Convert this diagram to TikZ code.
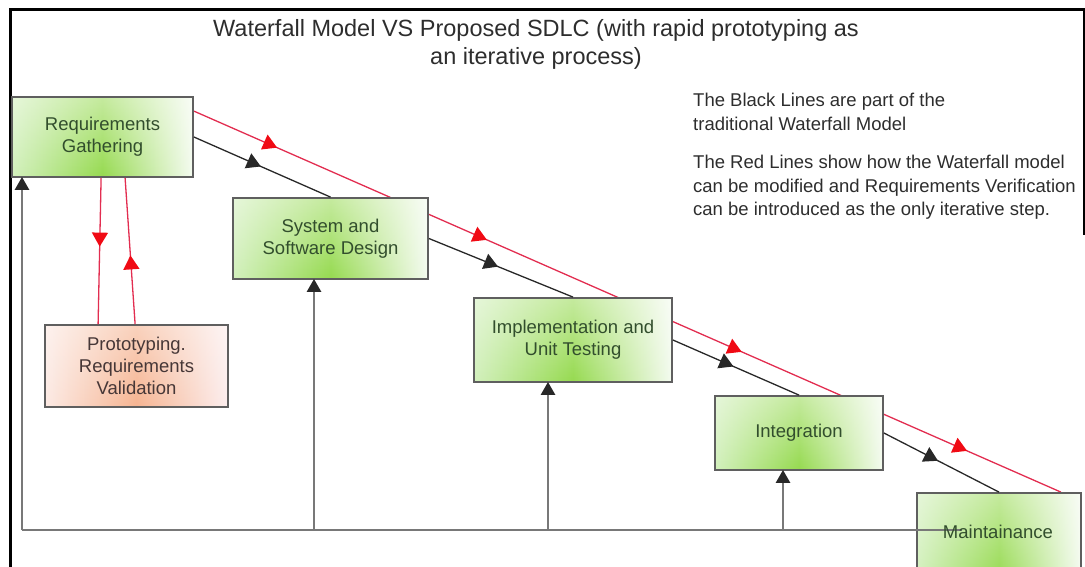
\documentclass[tikz,border=0pt]{standalone}
\usepackage{fontspec}
\setmainfont{Liberation Sans}
\usetikzlibrary{arrows.meta,decorations.markings,fadings,calc}

\definecolor{framecol}{RGB}{0,0,0}
\definecolor{boxgray}{RGB}{95,95,95}
\definecolor{boxtext}{RGB}{50,78,45}
\definecolor{prototext}{RGB}{70,55,55}
\definecolor{flowcol}{RGB}{40,40,40}
\definecolor{backcol}{RGB}{120,120,120}
\definecolor{redline}{RGB}{226,45,80}
\definecolor{redtip}{RGB}{240,10,20}
\definecolor{greenL}{RGB}{210,240,188}
\definecolor{greenM}{RGB}{150,218,80}
\definecolor{greenR}{RGB}{244,251,240}
\definecolor{peachL}{RGB}{252,234,228}
\definecolor{peachM}{RGB}{246,180,145}
\definecolor{peachR}{RGB}{252,238,238}
\definecolor{titletext}{RGB}{45,45,45}

\pgfdeclarelayer{background}
\pgfsetlayers{background,main}

\newcommand{\labelfont}{\fontsize{18.5}{22}\selectfont}
\newcommand{\notefont}{\fontsize{18.5}{23.5}\selectfont}
\newcommand{\titlefont}{\fontsize{23.5}{28}\selectfont}

% the picture runs with y pointing down, so a fading named "south"
% lightens the upper part of each box
\tikzset{
  stagebox/.style={draw=boxgray, line width=1.8pt, align=center, inner sep=0pt,
    font=\labelfont, text=boxtext,
    preaction={left color=greenL, right color=greenR, middle color=greenM},
    preaction={fill=white, fill opacity=0.45, path fading=south}},
  protobox/.style={draw=boxgray, line width=1.8pt, align=center, inner sep=0pt,
    font=\labelfont, text=prototext,
    preaction={left color=peachL, right color=peachR, middle color=peachM},
    preaction={fill=white, fill opacity=0.4, path fading=south}},
  flowline/.style={draw=flowcol, line width=1.3pt},
  redflow/.style={draw=redline, line width=1.3pt},
  backline/.style={draw=backcol, line width=2.6pt},
  uptip/.style={-{Triangle[length=13pt,width=14pt,color=flowcol]}, shorten >=-1pt},
  midtip/.style n args={2}{postaction={decorate, decoration={markings,
    mark=at position #1 with {\arrow[#2]{Triangle[length=14pt,width=16pt]}}}}},
  note/.style={align=left, font=\notefont, text=titletext, inner sep=0pt, anchor=north west}
}

\begin{document}
\begin{tikzpicture}[x=1pt,y=-1pt]
\useasboundingbox (0,0) rectangle (1085,567);

% outer frame
\draw[framecol, line width=3pt] (10,570) -- (10,10) -- (1084,10) -- (1084,235);

% title and notes
\node[align=center, font=\titlefont, text=titletext] (title) at (536,44)
  {Waterfall Model VS Proposed SDLC (with rapid prototyping as\\an iterative process)};
\node[note] (noteblack) at (693,93)
  {The Black Lines are part of the\\traditional Waterfall Model};
\node[note] (notered) at (693,155)
  {The Red Lines show how the Waterfall model\\can be modified and Requirements Verification\\can be introduced as the only iterative step.};

% process stages
\node[stagebox, minimum width=181pt, minimum height=80pt] (req) at (102.5,137)
  {Requirements\\Gathering};
\node[stagebox, minimum width=195pt, minimum height=81pt] (sys) at (330.5,238.5)
  {System and\\Software Design};
\node[stagebox, minimum width=198pt, minimum height=84pt] (impl) at (573,340)
  {Implementation and\\Unit Testing};
\node[stagebox, minimum width=168pt, minimum height=74pt] (integ) at (799,433)
  {Integration};
\node[stagebox, minimum width=164pt, minimum height=90pt] (maint) at (999,538) {};
\node[protobox, minimum width=183pt, minimum height=82pt] (proto) at (136.5,366)
  {Prototyping.\\Requirements\\Validation};

% red iterative path, running behind the stages
\coordinate (redstart) at ($(req.north east)+(0,15)$);
\coordinate (redend) at ($(maint.north east)+(-21,0)$);
\begin{pgfonlayer}{background}
  \draw[redflow, midtip={0.096}{redtip}, midtip={0.338}{redtip},
        midtip={0.632}{redtip}, midtip={0.892}{redtip}] (redstart) -- (redend);
\end{pgfonlayer}

% feedback lines back to every stage
\coordinate (fbcorner) at (22,530);
\coordinate (fbend) at (962,530);
\coordinate (fbsys) at (314,530);
\coordinate (fbimpl) at (548,530);
\coordinate (fbinteg) at (783,530);
\draw[backline] (fbend) -- (fbcorner);
\draw[backline, uptip] (fbcorner) -- (fbcorner |- req.south);
\draw[backline, uptip] (fbsys) -- (fbsys |- sys.south);
\draw[backline, uptip] (fbimpl) -- (fbimpl |- impl.south);
\draw[backline, uptip] (fbinteg) -- (fbinteg |- integ.south);

\node[font=\labelfont, text=boxtext, inner sep=0pt] (mtext) at (998,532) {Maintainance};

% waterfall flow
\draw[flowline, midtip={0.49}{flowcol}] (req.east) -- (sys.north);
\draw[flowline, midtip={0.48}{flowcol}] (sys.east) -- (impl.north);
\draw[flowline, midtip={0.48}{flowcol}] (impl.east) -- (integ.north);
\draw[flowline, midtip={0.47}{flowcol}] (integ.east) -- (maint.north);

% prototyping loop
\coordinate (downtop) at ($(req.south west)+(90,0)$);
\coordinate (downbot) at ($(proto.north west)+(54,0)$);
\coordinate (uptop) at ($(req.south west)+(114,0)$);
\coordinate (upbot) at ($(proto.north west)+(91,0)$);
\draw[redflow, midtip={0.47}{redtip}] (downtop) -- (downbot);
\draw[redflow, midtip={0.47}{redtip}] (upbot) -- (uptop);
\end{tikzpicture}
\end{document}
